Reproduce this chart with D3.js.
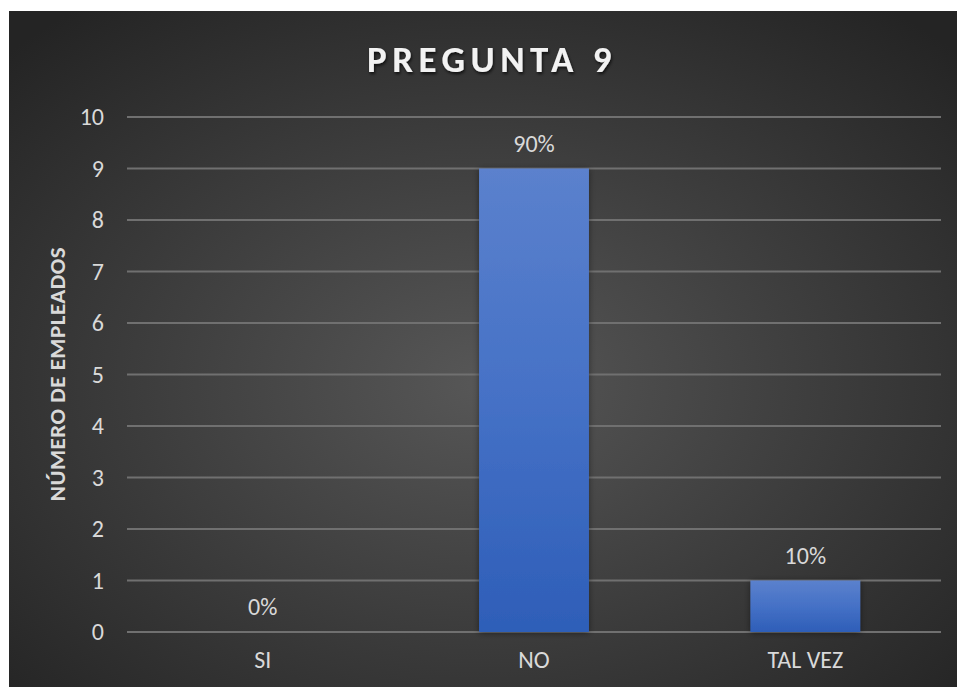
<!DOCTYPE html>
<html>
<head>
<meta charset="utf-8">
<script src="https://cdn.jsdelivr.net/npm/d3@7"></script>
<style>
  body { margin: 0; background: #fff; }
  svg { display: block; }
</style>
</head>
<body>
<svg id="chart"></svg>
<script>
var categories = ["SI", "NO", "TAL VEZ"];
var values = [0, 9, 1];
var percentLabels = ["0%", "90%", "10%"];
var yTicks = [0, 1, 2, 3, 4, 5, 6, 7, 8, 9, 10];

var width = 957, height = 687;
var margin = { left: 127, right: 16, top: 117, bottom: 55 };
var font = "Carlito, Lato, sans-serif";

var svg = d3.select("#chart")
    .attr("width", width)
    .attr("height", height);

var defs = svg.append("defs");

var bg = defs.append("radialGradient")
    .attr("id", "bg")
    .attr("cx", "50%").attr("cy", "55%").attr("r", "70%");
bg.append("stop").attr("offset", "0%").attr("stop-color", "#575757");
bg.append("stop").attr("offset", "100%").attr("stop-color", "#242424");

var barGrad = defs.append("linearGradient")
    .attr("id", "barGrad")
    .attr("x1", 0).attr("y1", 0).attr("x2", 0).attr("y2", 1);
barGrad.append("stop").attr("offset", "0%").attr("stop-color", "#5b81cd");
barGrad.append("stop").attr("offset", "50%").attr("stop-color", "#4571c6");
barGrad.append("stop").attr("offset", "100%").attr("stop-color", "#2e5eb8");

var shadow = defs.append("filter").attr("id", "shadow")
    .attr("x", "-20%").attr("y", "-20%").attr("width", "140%").attr("height", "140%");
shadow.append("feDropShadow")
    .attr("dx", 0).attr("dy", 1).attr("stdDeviation", 3)
    .attr("flood-color", "#000").attr("flood-opacity", 0.45);

var titleShadow = defs.append("filter").attr("id", "tshadow");
titleShadow.append("feDropShadow")
    .attr("dx", 1).attr("dy", 2).attr("stdDeviation", 1.5)
    .attr("flood-color", "#000").attr("flood-opacity", 0.7);

// chart area background
svg.append("rect")
    .attr("x", 9).attr("y", 11)
    .attr("width", width - 9).attr("height", height - 11)
    .attr("fill", "url(#bg)");

var x = d3.scaleBand()
    .domain(categories)
    .range([margin.left, width - margin.right])
    .paddingInner(0.595)
    .paddingOuter(0.2975);

var y = d3.scaleLinear()
    .domain([0, 10])
    .range([height - margin.bottom, margin.top]);

// gridlines
svg.append("g")
    .selectAll("line")
    .data(yTicks)
    .enter()
    .append("line")
    .attr("x1", margin.left)
    .attr("x2", width - margin.right)
    .attr("y1", function(d) { return y(d); })
    .attr("y2", function(d) { return y(d); })
    .attr("stroke", "#707070")
    .attr("stroke-width", 2);

// y axis labels
var yAxis = d3.axisLeft(y).tickValues(yTicks).tickSize(0).tickPadding(23);
var yg = svg.append("g")
    .attr("transform", "translate(" + margin.left + ",0)")
    .call(yAxis);
yg.select(".domain").remove();
yg.selectAll("text")
    .attr("fill", "#d9d9d9")
    .style("font-family", font)
    .style("font-size", "24px");

// x axis labels
var xAxis = d3.axisBottom(x).tickSize(0).tickPadding(19);
var xg = svg.append("g")
    .attr("transform", "translate(0," + y(0) + ")")
    .call(xAxis);
xg.select(".domain").remove();
xg.selectAll("text")
    .attr("fill", "#d9d9d9")
    .style("font-family", font)
    .style("font-size", "24px");

// bars
svg.append("g")
    .selectAll("rect")
    .data(values)
    .enter()
    .append("rect")
    .attr("x", function(d, i) { return x(categories[i]); })
    .attr("y", function(d) { return y(d); })
    .attr("width", x.bandwidth())
    .attr("height", function(d) { return y(0) - y(d); })
    .attr("fill", "url(#barGrad)")
    .attr("filter", function(d) { return d > 0 ? "url(#shadow)" : null; });

// data labels
svg.append("g")
    .selectAll("text")
    .data(values)
    .enter()
    .append("text")
    .attr("x", function(d, i) { return x(categories[i]) + x.bandwidth() / 2; })
    .attr("y", function(d) { return y(d) - 25; })
    .attr("dy", "0.35em")
    .attr("text-anchor", "middle")
    .attr("fill", "#d9d9d9")
    .style("font-family", font)
    .style("font-size", "24px")
    .text(function(d, i) { return percentLabels[i]; });

// title
svg.append("text")
    .attr("x", 492)
    .attr("y", 72)
    .attr("text-anchor", "middle")
    .attr("fill", "#f2f2f2")
    .attr("filter", "url(#tshadow)")
    .style("font-family", font)
    .style("font-weight", "bold")
    .style("font-size", "37px")
    .style("letter-spacing", "5.5px")
    .text("PREGUNTA 9");

// y axis title
svg.append("text")
    .attr("transform", "translate(65," + 374 + ") rotate(-90)")
    .attr("text-anchor", "middle")
    .attr("fill", "#d9d9d9")
    .style("font-family", font)
    .style("font-weight", "bold")
    .style("font-size", "23px")
    .style("letter-spacing", "0.5px")
    .text("NÚMERO DE EMPLEADOS");
</script>
</body>
</html>
